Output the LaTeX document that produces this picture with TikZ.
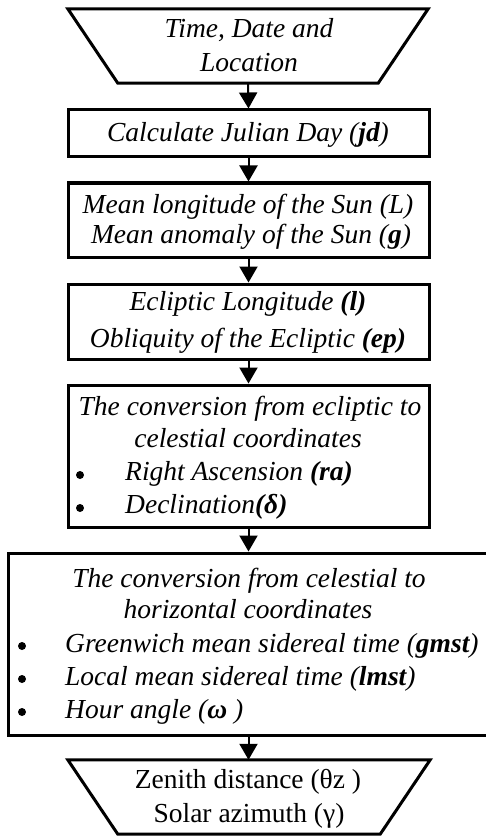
\documentclass[tikz,border=0pt]{standalone}
\usepackage{fontspec}
\setmainfont{Liberation Serif}
\usetikzlibrary{arrows.meta}
\begin{document}
\begin{tikzpicture}[x=1pt,y=-1pt,
  box/.style={draw=black,line width=3pt,rectangle,inner sep=0pt},
  ghost/.style={rectangle,inner sep=0pt},
  trap/.style={draw=black,line width=3pt,line join=miter},
  txt/.style={anchor=base,inner sep=0pt,font=\fontsize{27.5}{30}\selectfont\itshape},
  utxt/.style={anchor=base,inner sep=0pt,font=\fontsize{27.5}{30}\selectfont},
  ltxt/.style={anchor=base west,inner sep=0pt,font=\fontsize{27.5}{30}\selectfont\itshape},
  bul/.style={circle,fill=black,inner sep=0pt,minimum size=8pt},
  flow/.style={line width=2pt,-{Triangle[width=18pt,length=16pt]}}]
\useasboundingbox (0,0) rectangle (486,837);
% top trapezoid
\node[ghost,minimum width=360pt,minimum height=74pt] (t1) at (248,46) {};
\draw[trap] (t1.north west) -- (t1.north east) -- ([xshift=-50pt]t1.south east) -- ([xshift=50pt]t1.south west) -- cycle;
\node[txt] (t1a) at (249,38) {Time, Date and};
\node[txt] (t1b) at (249,72) {Location};
% box 2
\node[box,minimum width=361pt,minimum height=47pt] (b2) at (248.5,133.5) {};
\node[txt] (b2a) at (248,142) {Calculate Julian Day (\textbf{jd})};
% box 3
\node[box,minimum width=361pt,minimum height=74pt] (b3) at (248.5,220) {};
\node[txt] (b3a) at (248,213) {Mean longitude of the Sun (L)};
\node[txt] (b3b) at (251,243) {Mean anomaly of the Sun (\textbf{g})};
% box 4
\node[box,minimum width=361pt,minimum height=75pt] (b4) at (248.5,321.5) {};
\node[txt] (b4a) at (248,310) {Ecliptic Longitude \textbf{(l)}};
\node[txt] (b4b) at (248,347) {Obliquity of the Ecliptic \textbf{(ep)}};
% box 5
\node[box,minimum width=361pt,minimum height=142pt] (b5) at (248.5,456) {};
\node[txt] (b5a) at (250,415) {The conversion from ecliptic to};
\node[txt] (b5b) at (248,447) {celestial coordinates};
\node[bul] (b5c) at (80,475) {};
\node[ltxt] (b5d) at (125,480) {Right Ascension \textbf{(ra)}};
\node[bul] (b5e) at (80,508) {};
\node[ltxt] (b5f) at (125,513) {Declination\textbf{(δ)}};
% box 6
\node[box,minimum width=484pt,minimum height=182pt] (b6) at (250,644) {};
\node[txt] (b6a) at (249,587) {The conversion from celestial to};
\node[txt] (b6b) at (248,618) {horizontal coordinates};
\node[bul] (b6c) at (22,646) {};
\node[ltxt] (b6d) at (65,652) {Greenwich mean sidereal time (\textbf{gmst})};
\node[bul] (b6e) at (22,679) {};
\node[ltxt] (b6f) at (65,685) {Local mean sidereal time (\textbf{lmst})};
\node[bul] (b6g) at (22,712) {};
\node[ltxt] (b6h) at (65,718) {Hour angle (\textbf{ω} )};
% bottom trapezoid
\node[ghost,minimum width=362pt,minimum height=74pt] (t7) at (249,797) {};
\draw[trap] (t7.north west) -- (t7.north east) -- ([xshift=-50pt]t7.south east) -- ([xshift=50pt]t7.south west) -- cycle;
\node[utxt] (t7a) at (248,788) {Zenith distance (θz )};
\node[utxt] (t7b) at (249,822) {Solar azimuth (γ)};
% connectors
\draw[flow] (t1.south) -- (b2.north);
\draw[flow] (b2.south) -- (b3.north);
\draw[flow] (b3.south) -- (b4.north);
\draw[flow] (b4.south) -- (b5.north);
\draw[flow] (b5.south) -- (b6.north-|b5.south);
\draw[flow] (b6.south-|b5.south) -- (t7.north-|b5.south);
\end{tikzpicture}
\end{document}
